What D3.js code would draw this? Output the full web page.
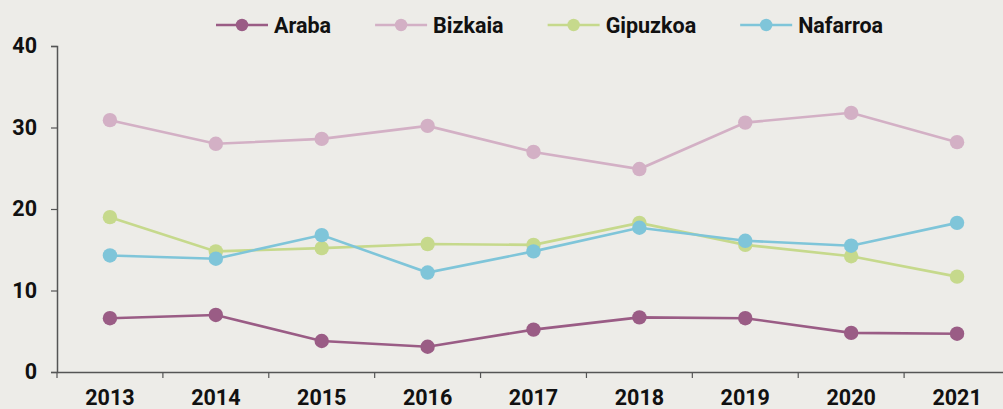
<!DOCTYPE html>
<html>
<head>
<meta charset="utf-8">
<script src="https://cdn.jsdelivr.net/npm/d3@7/dist/d3.min.js"></script>
<style>
  html, body { margin: 0; padding: 0; background: #edece8; }
  svg { display: block; }
  text { font-family: Roboto, "DejaVu Sans", sans-serif; font-weight: 700; fill: #111; }
</style>
</head>
<body>
<svg id="chart" width="1003" height="409"></svg>
<script>
// Years on the horizontal axis
const years = ["2013", "2014", "2015", "2016", "2017", "2018", "2019", "2020", "2021"];
// One value per year for each territory
const araba    = [6.6, 7.0, 3.8, 3.1, 5.2, 6.7, 6.6, 4.8, 4.7];
const bizkaia  = [30.9, 28.0, 28.6, 30.2, 27.0, 24.9, 30.6, 31.8, 28.2];
const gipuzkoa = [19.0, 14.8, 15.2, 15.7, 15.6, 18.3, 15.6, 14.2, 11.7];
const nafarroa = [14.3, 13.9, 16.8, 12.2, 14.8, 17.7, 16.1, 15.5, 18.3];
const seriesNames = ["Araba", "Bizkaia", "Gipuzkoa", "Nafarroa"];
const yTicks = [0, 10, 20, 30, 40];

const colors = ["#9a5c85", "#d3b0c5", "#c6d98c", "#7fc5d9"];
const series = [araba, bizkaia, gipuzkoa, nafarroa].map((values, i) => ({
  name: seriesNames[i], color: colors[i], values
}));

const svg = d3.select("#chart");
const margin = { left: 57, top: 46, bottom: 372, right: 1010 };
const fontSize = 21.5;

const x = d3.scaleBand().domain(years).range([margin.left, margin.right]);
const y = d3.scaleLinear().domain([0, 40]).range([margin.bottom, margin.top]);

// Y axis
const yAxis = svg.append("g")
  .attr("transform", `translate(${margin.left},0)`)
  .call(d3.axisLeft(y).tickValues(yTicks).tickSize(6).tickPadding(14));
yAxis.select(".domain").attr("stroke", "#555").attr("stroke-width", 1.5);
yAxis.selectAll(".tick line").attr("stroke", "#555").attr("stroke-width", 1.2);
yAxis.selectAll(".tick text")
  .attr("font-size", fontSize).attr("font-family", null).attr("fill", "#111");

// X axis with ticks on band boundaries
const xAxis = svg.append("g")
  .attr("transform", `translate(0,${margin.bottom})`)
  .call(d3.axisBottom(x).tickSize(0).tickPadding(18));
xAxis.select(".domain").attr("stroke", "#555").attr("stroke-width", 1.5);
xAxis.selectAll(".tick text")
  .attr("font-size", fontSize).attr("font-family", null).attr("fill", "#111");
xAxis.selectAll(".boundary")
  .data(years)
  .enter().append("line")
  .attr("class", "boundary")
  .attr("x1", d => x(d)).attr("x2", d => x(d))
  .attr("y1", 0).attr("y2", 6)
  .attr("stroke", "#555").attr("stroke-width", 1.2);

// Lines and markers
const line = d3.line()
  .x((d, i) => x(years[i]) + x.bandwidth() / 2)
  .y(d => y(d));

const g = svg.append("g");
series.forEach(s => {
  g.append("path")
    .datum(s.values)
    .attr("fill", "none")
    .attr("stroke", s.color)
    .attr("stroke-width", 2.6)
    .attr("d", line);
});
series.forEach(s => {
  g.selectAll(null)
    .data(s.values)
    .enter().append("circle")
    .attr("cx", (d, i) => x(years[i]) + x.bandwidth() / 2)
    .attr("cy", d => y(d))
    .attr("r", 7.2)
    .attr("fill", s.color);
});

// Legend
const legend = svg.append("g").attr("transform", "translate(0,25)");
let lx = 216;
series.forEach(s => {
  const item = legend.append("g").attr("transform", `translate(${lx},0)`);
  item.append("line").attr("x1", 0).attr("x2", 52).attr("y1", 0).attr("y2", 0)
    .attr("stroke", s.color).attr("stroke-width", 2.6);
  item.append("circle").attr("cx", 26).attr("cy", 0).attr("r", 6.2).attr("fill", s.color);
  const t = item.append("text").attr("x", 58).attr("y", 0).attr("dy", "0.35em")
    .attr("font-size", fontSize).text(s.name);
  lx += 58 + t.node().getComputedTextLength() + 44;
});
</script>
</body>
</html>
